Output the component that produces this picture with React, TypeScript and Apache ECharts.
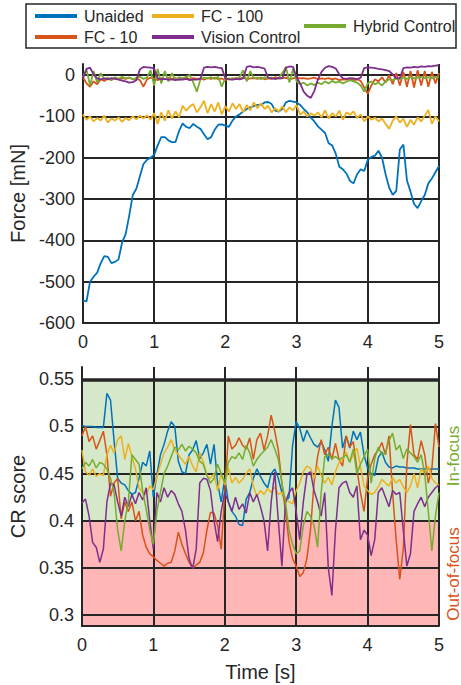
import React, { useEffect, useRef } from "react";
import * as echarts from "echarts";

const SERIES_NAMES = ["Unaided", "FC - 10", "FC - 100", "Vision Control", "Hybrid Control"];
const X_TICKS = [0, 1, 2, 3, 4, 5];
const FORCE_TICKS = [-600, -500, -400, -300, -200, -100, 0];
const CR_TICKS = [0.3, 0.35, 0.4, 0.45, 0.5, 0.55];

const TIME = [
  0, 0.05, 0.1, 0.15, 0.2, 0.25, 0.3, 0.35, 0.4, 0.45,
  0.5, 0.55, 0.6, 0.65, 0.7, 0.75, 0.8, 0.85, 0.9, 0.95,
  1.0, 1.05, 1.1, 1.15, 1.2, 1.25, 1.3, 1.35, 1.4, 1.45,
  1.5, 1.55, 1.6, 1.65, 1.7, 1.75, 1.8, 1.85, 1.9, 1.95,
  2.0, 2.05, 2.1, 2.15, 2.2, 2.25, 2.3, 2.35, 2.4, 2.45,
  2.5, 2.55, 2.6, 2.65, 2.7, 2.75, 2.8, 2.85, 2.9, 2.95,
  3.0, 3.05, 3.1, 3.15, 3.2, 3.25, 3.3, 3.35, 3.4, 3.45,
  3.5, 3.55, 3.6, 3.65, 3.7, 3.75, 3.8, 3.85, 3.9, 3.95,
  4.0, 4.05, 4.1, 4.15, 4.2, 4.25, 4.3, 4.35, 4.4, 4.45,
  4.5, 4.55, 4.6, 4.65, 4.7, 4.75, 4.8, 4.85, 4.9, 4.95,
  5.0,
];

// Force [mN]
const FORCE_UNAIDED = [
  -545, -548, -500, -488, -478, -455, -438, -440, -455, -452,
  -446, -405, -385, -340, -290, -275, -245, -215, -205, -200,
  -193, -170, -150, -150, -158, -162, -162, -135, -117, -125,
  -128, -118, -125, -130, -143, -155, -150, -132, -120, -119,
  -122, -125, -110, -100, -95, -88, -82, -78, -75, -72,
  -72, -66, -65, -70, -86, -88, -82, -66, -62, -64,
  -66, -72, -82, -90, -103, -112, -124, -132, -140, -165,
  -170, -190, -222, -228, -238, -256, -262, -240, -228, -232,
  -205, -198, -195, -183, -200, -240, -272, -290, -280, -180,
  -168, -255, -282, -312, -322, -305, -290, -262, -250, -235,
  -220,
];
const FORCE_FC10 = [
  -5, -20, -28, -15, -22, -10, -14, -8, -12, -6,
  -10, -7, -9, -6, -10, -8, -12, -28, -10, -6,
  -8, -12, -7, -10, -6, -9, -7, -11, -8, -6,
  -10, -7, -9, -8, -11, -7, -9, -6, -10, -8,
  -12, -8, -10, -7, -9, -6, -10, -8, -7, -9,
  -6, -10, -8, -9, -5, -8, -7, -6, -10, -8,
  -6, -8, -7, -9, -8, -6, -10, -8, -9, -7,
  -10, -8, -12, -10, -11, -9, -12, -10, -14, -30,
  -45, -25, -10, -15, -5, -18, 0, -22, 5, -25,
  8, -28, 10, -30, 12, -25, 10, -28, 8, -20,
  5,
];
const FORCE_FC100 = [
  -95, -108, -100, -112, -104, -110, -98, -115, -105, -110,
  -102, -113, -104, -109, -100, -107, -98, -105, -97, -108,
  -92, -118, -90, -110, -85, -105, -88, -102, -74, -86,
  -76, -70, -90, -78, -62, -92, -70, -88, -66, -95,
  -75, -88, -68, -82, -70, -90, -72, -85, -66, -80,
  -68, -82, -74, -90, -80, -88, -75, -90, -78, -85,
  -72, -96, -88, -100, -92, -98, -90, -102, -85, -105,
  -92, -100, -86, -108, -90, -96, -88, -104, -95, -112,
  -100, -108, -103, -112, -105, -118, -130, -110, -100, -115,
  -105, -125, -108, -120, -102, -112, -98, -84, -118, -100,
  -112,
];
const FORCE_VISION = [
  -8, 15, 18, 2, -8, -10, -8, -10, -7, -9,
  -11, -13, -15, -18, -17, -12, 14, 20, 19, 18,
  16, -8, -10, -9, -11, -10, -12, -10, -11, -9,
  -12, -10, -11, -9, 18, 20, 19, 20, 18, 17,
  -8, -10, -11, -9, -10, -8, 20, 22, 19, 20,
  18, 16, -6, -8, -9, -7, -8, 18, 21, 20,
  -5, -20, -40, -50, -55, -38, -10, 8, 18, 22,
  20, 16, 2, -8, -9, -7, -8, -10, -6, 17,
  19, 18, 17, 15, 14, 12, 10, 2, -8, -7,
  17, 19, 18, 20, 19, 21, 20, 22, 21, 23,
  24,
];
const FORCE_HYBRID = [
  -5, 14, -25, 10, -18, 5, -10, -6, -12, -5,
  -9, -4, -8, -6, -10, -7, -4, -9, -6, 12,
  -25, 15, -20, 10, -15, 5, -12, -5, -8, -4,
  0, -18, -40, -10, -6, -8, -5, -9, -4, -28,
  -6, -10, -7, -9, -5, 12, -15, 10, -8, -6,
  -10, -5, -8, -6, -9, -7, 5, 20, -18, 15,
  -15, -22, -18, -25, -20, -24, -18, -22, -15, -20,
  -14, -18, -15, -20, -16, -12, -15, -18, -25, -40,
  -20, -15, -22, -18, -25, -15, -10, -12, -8, -10,
  -6, -9, -5, -8, -6, -4, -7, -5, -8, -4,
  -6,
];

// CR score
const CR_UNAIDED = [
  0.501, 0.5, 0.5, 0.5, 0.499, 0.499, 0.499, 0.535, 0.528, 0.485,
  0.445, 0.44, 0.438, 0.432, 0.428, 0.43, 0.445, 0.462, 0.458, 0.474,
  0.425, 0.449, 0.47, 0.481, 0.495, 0.505, 0.5, 0.463, 0.452, 0.45,
  0.47, 0.475, 0.485, 0.466, 0.472, 0.481, 0.46, 0.481, 0.44, 0.42,
  0.445, 0.42, 0.41, 0.405, 0.396, 0.395, 0.423, 0.43, 0.445, 0.455,
  0.447, 0.44, 0.435, 0.45, 0.455, 0.445, 0.43, 0.42, 0.425, 0.48,
  0.505, 0.498, 0.484, 0.496, 0.488, 0.481, 0.478, 0.484, 0.475, 0.463,
  0.5, 0.528, 0.52, 0.477, 0.49, 0.477, 0.495, 0.486, 0.494, 0.47,
  0.456, 0.45, 0.448, 0.467, 0.473, 0.462, 0.457, 0.456, 0.458, 0.457,
  0.457, 0.456, 0.456, 0.456, 0.455, 0.455, 0.455, 0.455, 0.455, 0.455,
  0.455,
];
const CR_FC10 = [
  0.49, 0.5, 0.484, 0.49, 0.476, 0.485, 0.495, 0.47, 0.426, 0.44,
  0.445, 0.402, 0.42, 0.41, 0.42, 0.4, 0.41, 0.385, 0.372, 0.365,
  0.362, 0.358, 0.355, 0.352, 0.355, 0.356, 0.368, 0.388, 0.375, 0.365,
  0.356, 0.35, 0.353, 0.356, 0.366, 0.39, 0.409, 0.408, 0.395, 0.37,
  0.43, 0.49, 0.476, 0.48, 0.488, 0.48, 0.476, 0.488, 0.465, 0.486,
  0.493, 0.475, 0.49, 0.512, 0.495, 0.475, 0.44, 0.41, 0.378, 0.36,
  0.352, 0.341, 0.345, 0.36, 0.39, 0.44, 0.468, 0.486, 0.47, 0.478,
  0.465, 0.482, 0.465, 0.458, 0.49, 0.478, 0.484, 0.455, 0.43, 0.41,
  0.445, 0.46, 0.47, 0.475, 0.483, 0.47, 0.49, 0.43, 0.38, 0.338,
  0.37, 0.46, 0.502, 0.47, 0.465, 0.485, 0.47, 0.44, 0.455, 0.503,
  0.478,
];
const CR_FC100 = [
  0.475, 0.452, 0.448, 0.455, 0.447, 0.45, 0.448, 0.47, 0.48, 0.472,
  0.486, 0.49, 0.465, 0.482, 0.468, 0.455, 0.435, 0.43, 0.428, 0.437,
  0.433, 0.447, 0.46, 0.472, 0.478, 0.486, 0.475, 0.47, 0.465, 0.46,
  0.468, 0.458, 0.452, 0.472, 0.462, 0.448, 0.445, 0.45, 0.432, 0.45,
  0.438, 0.456, 0.44, 0.446, 0.44, 0.444, 0.45, 0.455, 0.437, 0.426,
  0.432, 0.428, 0.434, 0.43, 0.436, 0.428, 0.43, 0.424, 0.42, 0.418,
  0.432, 0.44, 0.452, 0.458, 0.456, 0.445, 0.458, 0.448, 0.44, 0.446,
  0.438, 0.452, 0.462, 0.465, 0.473, 0.462, 0.47, 0.477, 0.458, 0.437,
  0.432, 0.428, 0.43, 0.436, 0.444, 0.44, 0.437, 0.446, 0.44, 0.444,
  0.436, 0.43, 0.437, 0.45, 0.435, 0.455, 0.45, 0.458, 0.445, 0.44,
  0.438,
];
const CR_VISION = [
  0.419, 0.423, 0.405, 0.377, 0.372, 0.356, 0.37, 0.42, 0.44, 0.438,
  0.42, 0.405, 0.425, 0.415, 0.428, 0.418, 0.43, 0.422, 0.435, 0.4,
  0.37, 0.43, 0.42, 0.435, 0.425, 0.432, 0.428, 0.418, 0.41, 0.39,
  0.36, 0.349, 0.37, 0.44, 0.445, 0.444, 0.432, 0.4, 0.378, 0.41,
  0.43, 0.42, 0.41, 0.425, 0.412, 0.418, 0.408, 0.43, 0.42, 0.428,
  0.415, 0.4, 0.368, 0.42, 0.452, 0.4, 0.352, 0.42, 0.43, 0.435,
  0.41, 0.38, 0.42, 0.449, 0.452, 0.432, 0.42, 0.405, 0.43, 0.35,
  0.321, 0.39, 0.435, 0.44, 0.442, 0.43, 0.425, 0.437, 0.38, 0.39,
  0.385, 0.363, 0.38, 0.43, 0.435, 0.425, 0.415, 0.432, 0.428, 0.43,
  0.39, 0.352, 0.365, 0.41, 0.418, 0.425, 0.415, 0.425, 0.43, 0.435,
  0.438,
];
const CR_HYBRID = [
  0.455, 0.462, 0.458, 0.465, 0.456, 0.462, 0.46, 0.455, 0.445, 0.43,
  0.39, 0.368, 0.4, 0.42, 0.47, 0.465, 0.46, 0.432, 0.412, 0.39,
  0.375, 0.41, 0.43, 0.45, 0.458, 0.468, 0.478, 0.475, 0.481, 0.474,
  0.479, 0.476, 0.472, 0.463, 0.46, 0.448, 0.44, 0.445, 0.46, 0.45,
  0.44, 0.462, 0.468, 0.466, 0.472, 0.465, 0.48, 0.472, 0.458, 0.465,
  0.47, 0.474, 0.478, 0.486, 0.476, 0.465, 0.44, 0.42, 0.39, 0.375,
  0.365, 0.368, 0.395, 0.41, 0.405, 0.395, 0.372, 0.43, 0.468, 0.47,
  0.466, 0.468, 0.465, 0.467, 0.47, 0.462, 0.476, 0.45, 0.46, 0.468,
  0.476, 0.44, 0.466, 0.478, 0.47, 0.472, 0.485, 0.493, 0.475, 0.48,
  0.466, 0.476, 0.472, 0.468, 0.462, 0.47, 0.45, 0.41, 0.368, 0.405,
  0.43,
];

const COLORS = ["#0072BD", "#D95319", "#EDB120", "#7E2F8E", "#77AC30"];
const FONT = "'Liberation Sans', Arial, Helvetica, sans-serif";
const TXT = "#262626";
const GRID = "#262626";
const GREEN_BG = "#d5e8c9";
const RED_BG = "#ffb6b6";

export default function App() {
  const ref = useRef<HTMLDivElement>(null);

  useEffect(() => {
    if (!ref.current) return;
    const chart = echarts.init(ref.current, null, { renderer: "svg" });
    const pair = (ys: number[]) => TIME.map((t, i) => [t, ys[i]]);

    const xAxisBase = (gridIndex: number) => ({
      gridIndex,
      type: "value",
      min: 0,
      max: 5,
      interval: 1,
      z: 2,
      axisLine: { show: true, onZero: false, lineStyle: { color: GRID, width: 2 } },
      axisTick: { show: false },
      axisLabel: {
        fontSize: 18,
        color: TXT,
        fontFamily: FONT,
        margin: 10,
        customValues: X_TICKS,
      },
      splitLine: { show: true, lineStyle: { color: GRID, width: 2 } },
    });

    const forceSets = [FORCE_UNAIDED, FORCE_FC10, FORCE_FC100, FORCE_HYBRID, FORCE_VISION];
    const forceColors = [COLORS[0], COLORS[1], COLORS[2], COLORS[4], COLORS[3]];
    const forceNames = [SERIES_NAMES[0], SERIES_NAMES[1], SERIES_NAMES[2], SERIES_NAMES[4], SERIES_NAMES[3]];
    const crSets = [CR_UNAIDED, CR_FC10, CR_FC100, CR_VISION, CR_HYBRID];

    const topSeries = forceSets.map((ys, i) => ({
      name: forceNames[i],
      type: "line",
      xAxisIndex: 0,
      yAxisIndex: 0,
      data: pair(ys),
      showSymbol: false,
      symbol: "none",
      z: 3,
      lineStyle: { color: forceColors[i], width: 1.8 },
      ...(i === 0
        ? {
            markLine: {
              silent: true,
              z: 2,
              symbol: ["none", "none"],
              label: { show: false },
              lineStyle: { color: GRID, width: 2, type: "solid" },
              data: FORCE_TICKS.slice(1).map((v) => ({ yAxis: v })),
            },
          }
        : {}),
    }));

    const bottomSeries = crSets.map((ys, i) => ({
      name: SERIES_NAMES[i],
      type: "line",
      xAxisIndex: 1,
      yAxisIndex: 1,
      data: pair(ys),
      showSymbol: false,
      symbol: "none",
      z: 3,
      lineStyle: { color: COLORS[i], width: 1.5 },
      ...(i === 0
        ? {
            markArea: {
              silent: true,
              z: 1,
              data: [
                [
                  { yAxis: 0.4, itemStyle: { color: GREEN_BG } },
                  { yAxis: 0.55 },
                ],
                [
                  { yAxis: 0.2885, itemStyle: { color: RED_BG } },
                  { yAxis: 0.4 },
                ],
              ],
            },
            markLine: {
              silent: true,
              z: 2,
              symbol: ["none", "none"],
              label: { show: false },
              lineStyle: { color: GRID, width: 2, type: "solid" },
              data: CR_TICKS.map((v) => ({
                yAxis: v,
                lineStyle: { color: GRID, width: v === 0.55 ? 3.5 : 2, type: "solid" },
              })),
            },
          }
        : {}),
    }));

    const legendItems = [
      { name: SERIES_NAMES[0], color: COLORS[0], x: 35, y: 16 },
      { name: SERIES_NAMES[1], color: COLORS[1], x: 35, y: 37 },
      { name: SERIES_NAMES[2], color: COLORS[2], x: 152, y: 16 },
      { name: SERIES_NAMES[3], color: COLORS[3], x: 152, y: 37 },
      { name: SERIES_NAMES[4], color: COLORS[4], x: 304, y: 26 },
    ];

    const graphic: any[] = [
      {
        type: "rect",
        z: 10,
        shape: { x: 26, y: 4, width: 430, height: 44 },
        style: { fill: "#ffffff", stroke: "#262626", lineWidth: 1.5 },
      },
    ];
    legendItems.forEach((it) => {
      graphic.push({
        type: "line",
        z: 11,
        shape: { x1: it.x, y1: it.y, x2: it.x + 42, y2: it.y },
        style: { stroke: it.color, lineWidth: 4 },
      });
      graphic.push({
        type: "text",
        z: 11,
        x: it.x + 49,
        y: it.y,
        style: {
          text: it.name,
          fill: TXT,
          fontSize: 16,
          fontFamily: FONT,
          align: "left",
          verticalAlign: "middle",
        },
      });
    });
    graphic.push({
      type: "text",
      z: 11,
      x: 453,
      y: 456,
      rotation: Math.PI / 2,
      style: {
        text: "In-focus",
        fill: COLORS[4],
        fontSize: 17,
        fontFamily: FONT,
        align: "center",
        verticalAlign: "middle",
      },
    });
    graphic.push({
      type: "text",
      z: 11,
      x: 453,
      y: 574,
      rotation: Math.PI / 2,
      style: {
        text: "Out-of-focus",
        fill: COLORS[1],
        fontSize: 17,
        fontFamily: FONT,
        align: "center",
        verticalAlign: "middle",
      },
    });

    const option: any = {
      animation: false,
      textStyle: { fontFamily: FONT, color: TXT },
      grid: [
        { left: 81, top: 64, width: 358, height: 259 },
        { left: 81, top: 367, width: 358, height: 259 },
      ],
      xAxis: [
        xAxisBase(0),
        {
          ...xAxisBase(1),
          name: "Time [s]",
          nameLocation: "middle",
          nameGap: 36,
          nameTextStyle: { fontSize: 20, color: TXT, fontFamily: FONT },
        },
      ],
      yAxis: [
        {
          gridIndex: 0,
          type: "value",
          min: -600,
          max: 27,
          interval: 100,
          z: 2,
          name: "Force [mN]",
          nameLocation: "middle",
          nameGap: 43,
          nameTextStyle: { fontSize: 20, color: TXT, fontFamily: FONT },
          axisLine: { show: true, onZero: false, lineStyle: { color: GRID, width: 2 } },
          axisTick: { show: false },
          axisLabel: {
            fontSize: 18,
            color: TXT,
            fontFamily: FONT,
            margin: 8,
            customValues: FORCE_TICKS,
          },
          splitLine: { show: false },
        },
        {
          gridIndex: 1,
          type: "value",
          min: 0.2885,
          max: 0.563,
          z: 2,
          name: "CR score",
          nameLocation: "middle",
          nameGap: 37,
          nameTextStyle: { fontSize: 20, color: TXT, fontFamily: FONT },
          axisLine: { show: true, onZero: false, lineStyle: { color: GRID, width: 2 } },
          axisTick: { show: false, customValues: CR_TICKS },
          axisLabel: {
            fontSize: 18,
            color: TXT,
            fontFamily: FONT,
            margin: 8,
            customValues: CR_TICKS,
          },
          splitLine: { show: false },
        },
      ],
      series: [...topSeries, ...bottomSeries],
      graphic,
    };

    chart.setOption(option);
    return () => chart.dispose();
  }, []);

  return (
    <div
      ref={ref}
      style={{ position: "absolute", left: 0, top: 0, width: 461, height: 685 }}
    />
  );
}
